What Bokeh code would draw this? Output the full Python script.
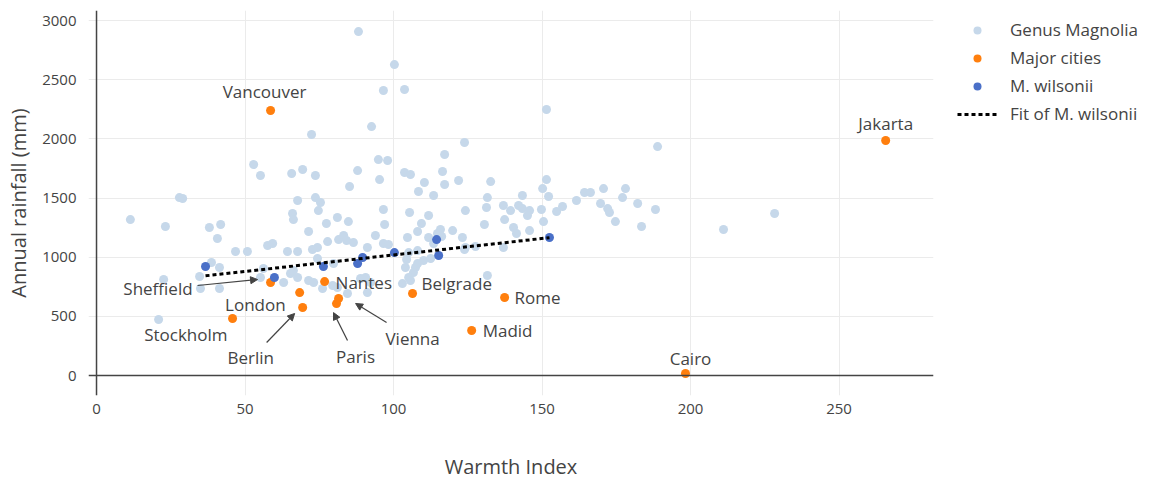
import numpy as np
from bokeh.plotting import figure
from bokeh.models import (ColumnDataSource, Legend, LegendItem, Span, Arrow,
                          NormalHead, Range1d, FixedTicker)
from bokeh.core.properties import value
from bokeh.embed import file_html
from bokeh.resources import INLINE

FONT = "Open Sans"
TXT = "#444444"

# ---------------- data ----------------
mag_x = [88.2, 100.3, 96.6, 103.7, 72.4, 151.5, 92.6, 123.9, 188.9, 52.9, 55.2, 65.7, 69.4, 73.7, 87.9,
         94.9, 98.0, 85.2, 95.3, 103.7, 105.7, 117.2, 116.5, 110.4, 108.4, 113.5, 117.2, 121.9, 132.7, 151.5,
         150.2, 143.4, 152.2, 131.6, 161.6, 164.3, 166.3, 170.7, 178.1, 177.1, 169.7, 182.2, 172.1, 172.7, 188.2,
         174.7, 183.5, 211.1, 228.3, 27.9, 29.0, 67.7, 73.7, 75.4,
         11.4, 23.2, 38.0, 41.8, 40.7, 46.8, 50.8, 57.6, 59.3, 64.3, 67.7, 66.0, 66.3, 71.4, 74.7,
         77.4, 81.1, 84.8, 74.4, 77.8, 81.5, 83.2, 84.2, 86.5, 96.6, 97.0, 105.4, 111.8, 109.4, 108.1,
         104.7, 115.8, 119.9, 124.2, 93.9, 72.7, 91.2, 96.6, 98.3, 111.8, 113.5, 116.2, 123.2, 74.4, 79.8,
         104.4, 104.0, 107.4, 124.2, 131.3, 137.0, 139.4, 142.1, 143.4, 145.8, 145.1, 149.8, 154.9, 156.9, 137.4,
         150.5, 130.6, 140.4, 141.4, 145.8, 123.9, 137.0, 127.6, 131.6, 38.7, 41.4, 34.7, 22.6, 56.2, 65.3,
         67.7, 63.0, 71.4, 73.1, 76.1, 79.5, 81.1, 84.5, 88.9, 41.4, 35.0, 20.9, 105.1, 108.1, 108.1,
         110.1, 112.5, 106.7, 105.1, 105.7, 103.0, 55.2, 91.2, 90.6, 92.3, 66.3, 114.8]
mag_y = [2907, 2628, 2409, 2417, 2037, 2248, 2104, 1969, 1935, 1783, 1690, 1707, 1741, 1690, 1732,
         1825, 1817, 1597, 1656, 1716, 1699, 1868, 1724, 1631, 1555, 1521, 1614, 1648, 1639, 1656,
         1580, 1521, 1513, 1504, 1479, 1547, 1547, 1580, 1580, 1504, 1454, 1454, 1411, 1378, 1403,
         1301, 1259, 1234, 1369, 1504, 1496, 1479, 1504, 1462,
         1318, 1259, 1251, 1276, 1158, 1048, 1048, 1099, 1116, 1048, 1048, 1369, 1318, 1217, 1394,
         1285, 1335, 1301, 1082, 1132, 1149, 1183, 1141, 1124, 1403, 1276, 1378, 1352, 1285, 1217,
         1166, 1234, 1225, 1394, 1183, 1065, 1082, 1116, 1107, 1166, 1116, 1175, 1166, 989, 947,
         980, 913, 913, 1082, 1420, 1437, 1394, 1437, 1411, 1394, 1352, 1403, 1386, 1428, 1318,
         1301, 1276, 1251, 1200, 1225, 1065, 1082, 1090, 845, 955, 913, 837, 811, 904, 862,
         828, 786, 803, 786, 735, 761, 744, 693, 820, 735, 735, 473, 1039, 1056, 947,
         972, 989, 870, 828, 803, 777, 828, 701, 828, 786, 887, 1200]

city_names = ["Vancouver", "Jakarta", "Cairo", "Rome", "Madid", "Belgrade", "Nantes",
              "London", "Stockholm", "Sheffield", "Berlin", "Paris", "Vienna"]
city_x = [58.6, 265.7, 198.3, 137.4, 126.3, 106.4, 76.8, 68.4, 45.8, 58.6, 69.4, 80.8, 81.5]
city_y = [2240, 1986, 17, 659, 380, 693, 794, 701, 482, 786, 575, 608, 651]

wil_x = [36.7, 59.9, 76.4, 87.9, 89.6, 100.3, 114.5, 115.2, 152.5]
wil_y = [921, 828, 921, 947, 997, 1039, 1149, 1014, 1166]

x_ticks = [0, 50, 100, 150, 200, 250]
y_ticks = [0, 500, 1000, 1500, 2000, 2500, 3000]

# ---------------- label styling (pixel offsets from the city point) ----------------
lab_dx = [-6, 0, 5, 10, 11, 9, 11, -14, -5, -78, -52, 19, 74]
lab_dy = [-19, -17, -15, 0, 0, -10, 1, 12, 16, 6, 50, 53, 40]
lab_align = ["center", "center", "center", "left", "left", "left", "left",
             "right", "right", "right", "center", "center", "center"]
# arrows: (city name, tail dx, tail dy, tip dx, tip dy)
arrow_spec = [("Sheffield", -73, 3, -13, -3),
              ("Berlin", -36, 35, -8, 6),
              ("Paris", 11, 37, -3, 9),
              ("Vienna", 48, 24, 17, 5)]

X0, X1 = -2.7, 281.8
Y0, Y1 = -169, 3085
FW, FH = 845, 385
kx = FW / (X1 - X0)
ky = FH / (Y1 - Y0)

p = figure(frame_width=FW, frame_height=FH,
           x_range=Range1d(X0, X1), y_range=Range1d(Y0, Y1),
           output_backend="svg", toolbar_location=None,
           min_border_left=88, min_border_right=217,
           min_border_top=10, min_border_bottom=89)
p.outline_line_color = None
p.background_fill_color = "white"
p.border_fill_color = "white"

for ax in (p.xaxis[0], p.yaxis[0]):
    ax.axis_line_color = None
    ax.major_tick_line_color = None
    ax.minor_tick_line_color = None
    ax.major_label_text_font = FONT
    ax.major_label_text_font_size = "15px"
    ax.major_label_text_color = TXT
    ax.axis_label_text_font = FONT
    ax.axis_label_text_font_size = "20px"
    ax.axis_label_text_font_style = "normal"
    ax.axis_label_text_color = TXT

p.xaxis.ticker = FixedTicker(ticks=x_ticks)
p.yaxis.ticker = FixedTicker(ticks=y_ticks)
p.xaxis.axis_label = "Warmth Index"
p.yaxis.axis_label = "Annual rainfall (mm)"
p.xaxis.major_label_standoff = 2
p.yaxis.major_label_standoff = 6
p.xaxis.axis_label_standoff = 36
p.yaxis.axis_label_standoff = 7

p.xgrid.grid_line_color = "#ebebeb"
p.ygrid.grid_line_color = "#ebebeb"
p.xgrid.ticker = FixedTicker(ticks=x_ticks)
p.ygrid.ticker = FixedTicker(ticks=y_ticks)

p.add_layout(Span(location=0, dimension="height", line_color="#444444", line_width=1.5))
p.add_layout(Span(location=0, dimension="width", line_color="#444444", line_width=1.5))

r_mag = p.scatter(mag_x, mag_y, size=9, color="#c6d8ea", line_color=None)
city_src = ColumnDataSource(dict(x=city_x, y=city_y, name=city_names, dx=lab_dx, dy=lab_dy, al=lab_align))
r_city = p.scatter("x", "y", source=city_src, size=9, color="#ff7f0e", line_color=None)
r_wil = p.scatter(wil_x, wil_y, size=9, color="#4a70c8", line_color=None)

coef = np.polyfit(wil_x, wil_y, 1)
fx = np.array([min(wil_x), max(wil_x)])
fy = np.polyval(coef, fx)
r_fit = p.line(fx, fy, line_color="black", line_width=3, line_dash="4 3")

p.text("x", "y", text="name", source=city_src, x_offset="dx", y_offset="dy",
       text_align="al", text_baseline="middle", text_font=value(FONT),
       text_font_size="17px", text_color=TXT)

idx = {n: i for i, n in enumerate(city_names)}
ax_s, ay_s, ax_e, ay_e = [], [], [], []
for name, tdx, tdy, hdx, hdy in arrow_spec:
    i = idx[name]
    ax_s.append(city_x[i] + tdx / kx)
    ay_s.append(city_y[i] - tdy / ky)
    ax_e.append(city_x[i] + hdx / kx)
    ay_e.append(city_y[i] - hdy / ky)
arr_src = ColumnDataSource(dict(xs=ax_s, ys=ay_s, xe=ax_e, ye=ay_e))
p.add_layout(Arrow(x_start="xs", y_start="ys", x_end="xe", y_end="ye", source=arr_src,
                   line_color="#444444", line_width=1.2,
                   end=NormalHead(size=7, fill_color="#444444", line_color="#444444")))

legend = Legend(items=[LegendItem(label="Genus Magnolia", renderers=[r_mag]),
                       LegendItem(label="Major cities", renderers=[r_city]),
                       LegendItem(label="M. wilsonii", renderers=[r_wil]),
                       LegendItem(label="Fit of M. wilsonii", renderers=[r_fit])],
                location=(24, FH - 8 - 107))
legend.label_text_font = FONT
legend.label_text_font_size = "17px"
legend.label_text_color = TXT
legend.border_line_color = None
legend.background_fill_alpha = 0
legend.glyph_width = 40
legend.glyph_height = 20
legend.label_height = 20
legend.spacing = 5
legend.padding = 0
legend.margin = 0
legend.label_standoff = 13
p.add_layout(legend, "right")

open("out.html", "w").write(file_html(p, INLINE))
